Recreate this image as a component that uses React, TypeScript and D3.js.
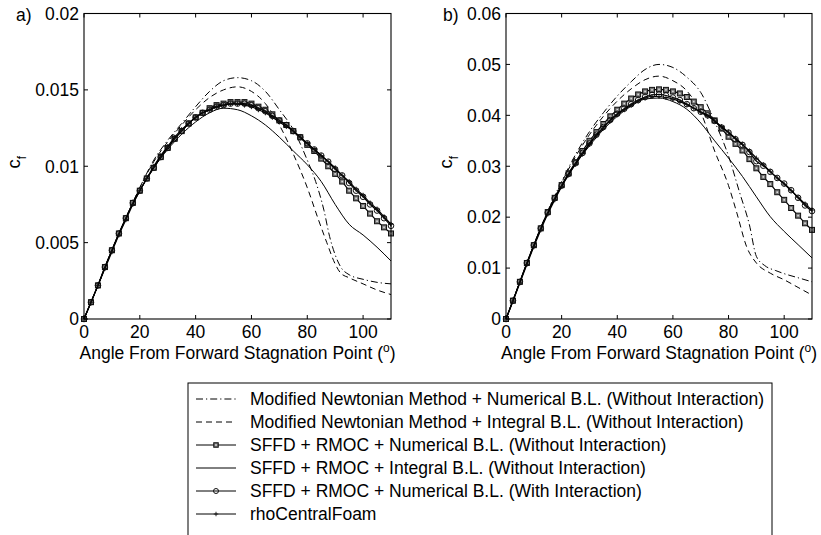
import React from 'react';
import * as d3 from 'd3';

const FONT = '"Liberation Sans", Arial, Helvetica, sans-serif';

// shared sampling grid for the marker series (deg)
const X25 = [0,2.5,5,7.5,10,12.5,15,17.5,20,22.5,25,27.5,30,32.5,35,37.5,40,42.5,45,47.5,50,52.5,55,57.5,60,62.5,65,67.5,70,72.5,75,77.5,80,82.5,85,87.5,90,92.5,95,97.5,100,102.5,105,107.5,110];
const X5 = [0,5,10,15,20,25,30,35,40,45,50,55,60,65,70,75,80,85,90,95,100,105,110];

const X_TICKS = [0, 20, 40, 60, 80, 100];
const A_Y_TICKS = [0, 0.005, 0.01, 0.015, 0.02];
const A_Y_LABELS = ['0', '0.005', '0.01', '0.015', '0.02'];
const B_Y_TICKS = [0, 0.01, 0.02, 0.03, 0.04, 0.05, 0.06];
const B_Y_LABELS = ['0', '0.01', '0.02', '0.03', '0.04', '0.05', '0.06'];

// ---- panel a ----
const A_MNN_X = [0,5,10,15,20,25,30,35,40,45,50,55,60,65,70,75,80,83,86,88,90,92,95,100,105,110];
const A_MNN_Y = [0,.0022,.0045,.0066,.0086,.0104,.0117,.0128,.0139,.0149,.0156,.0158,.0156,.0149,.0137,.0124,.0104,.0090,.0071,.0054,.0042,.0034,.0029,.0026,.0024,.0023];
const A_MNI_X = [0,5,10,15,20,25,30,35,40,45,50,55,60,65,70,75,80,84,87,90,92,95,100,105,110];
const A_MNI_Y = [0,.0022,.0045,.0066,.0086,.0103,.0116,.0127,.0137,.0145,.0150,.0152,.0149,.0141,.0127,.0108,.0086,.0065,.0050,.0036,.0030,.0027,.0023,.0019,.0016];
const A_SQ = [0,.0011,.0022,.0034,.0045,.0056,.0066,.0076,.0084,.0092,.0099,.0106,.0112,.0118,.0123,.0128,.0132,.0135,.0138,.0140,.0141,.0142,.0142,.0142,.0141,.0139,.0137,.0134,.0130,.0127,.0123,.0119,.0114,.0110,.0105,.0100,.0095,.0090,.0084,.0079,.0074,.0069,.0064,.0060,.0056];
const A_INT = [0,.0022,.0045,.0066,.0084,.0099,.0111,.0121,.0129,.0135,.0138,.0137,.0133,.0127,.0119,.0110,.0101,.0090,.0075,.0062,.0055,.0047,.0038];
const A_CI = [0,.0011,.0022,.0034,.0045,.0056,.0066,.0076,.0084,.0092,.0099,.0106,.0112,.0118,.0123,.0128,.0132,.0135,.0137,.0139,.0140,.0141,.0141,.0141,.0140,.0138,.0136,.0133,.0130,.0127,.0123,.0119,.0115,.0111,.0107,.0103,.0098,.0094,.0089,.0084,.0080,.0075,.0071,.0066,.0061];
const A_RHO = [0,.0011,.0022,.0033,.0044,.0055,.0065,.0075,.0084,.0092,.0100,.0107,.0113,.0119,.0124,.0128,.0132,.0135,.0137,.0139,.0140,.0141,.0141,.0140,.0139,.0137,.0135,.0132,.0129,.0126,.0123,.0119,.0115,.0111,.0107,.0103,.0099,.0094,.0090,.0085,.0081,.0076,.0072,.0067,.0062];

// ---- panel b ----
const B_MNN_X = [0,5,10,15,20,25,30,35,40,45,50,55,60,65,70,75,80,84,87.5,90,93,97,100,105,110];
const B_MNN_Y = [0,.0073,.0146,.0212,.0270,.0323,.0368,.0405,.0438,.0466,.0490,.0500,.0494,.0475,.0445,.0388,.0320,.0248,.0185,.0123,.0105,.0095,.0089,.0081,.0073];
const B_MNI_X = [0,5,10,15,20,25,30,35,40,45,50,55,60,65,70,75,80,83,86.5,90,95,100,105,110];
const B_MNI_Y = [0,.0073,.0145,.0211,.0268,.0319,.0362,.0398,.0428,.0452,.0470,.0477,.0468,.0448,.0406,.0330,.0262,.0208,.0142,.0110,.0090,.0077,.0062,.0047];
const B_SQ = [0,.0036,.0073,.0110,.0145,.0178,.0210,.0238,.0263,.0286,.0308,.0330,.0350,.0367,.0383,.0398,.0411,.0423,.0433,.0441,.0447,.0450,.0451,.0450,.0447,.0443,.0436,.0427,.0416,.0404,.0390,.0374,.0358,.0344,.0331,.0314,.0296,.0279,.0265,.0249,.0234,.0218,.0203,.0188,.0175];
const B_INT = [0,.0073,.0144,.0208,.0261,.0304,.0340,.0372,.0398,.0418,.0432,.0434,.0427,.0412,.0385,.0350,.0316,.0280,.0240,.0201,.0172,.0146,.0120];
const B_CI = [0,.0036,.0073,.0110,.0145,.0178,.0209,.0237,.0262,.0285,.0306,.0326,.0345,.0362,.0377,.0391,.0403,.0413,.0422,.0430,.0436,.0440,.0441,.0439,.0435,.0430,.0422,.0414,.0407,.0400,.0389,.0376,.0366,.0353,.0342,.0328,.0310,.0301,.0289,.0277,.0266,.0253,.0238,.0223,.0212];
const B_RHO = [0,.0035,.0071,.0107,.0142,.0175,.0206,.0234,.0260,.0283,.0304,.0324,.0343,.0360,.0375,.0389,.0401,.0411,.0420,.0428,.0434,.0437,.0437,.0435,.0432,.0427,.0421,.0414,.0406,.0398,.0389,.0378,.0367,.0355,.0343,.0330,.0316,.0303,.0290,.0277,.0265,.0252,.0239,.0226,.0214];

const LEGEND_LABELS = [
  'Modified Newtonian Method + Numerical B.L. (Without Interaction)',
  'Modified Newtonian Method + Integral B.L. (Without Interaction)',
  'SFFD + RMOC + Numerical B.L. (Without Interaction)',
  'SFFD + RMOC + Integral B.L. (Without Interaction)',
  'SFFD + RMOC + Numerical B.L. (With Interaction)',
  'rhoCentralFoam',
];

type Marker = 'none' | 'square' | 'circle' | 'plus';
const STYLES: { dash?: string; marker: Marker }[] = [
  { dash: '7,3,1.2,3', marker: 'none' },
  { dash: '6,4', marker: 'none' },
  { marker: 'square' },
  { marker: 'none' },
  { marker: 'circle' },
  { marker: 'plus' },
];

const FS = 17.5;

function MarkerShape({ type, x, y, s }: { type: Marker; x: number; y: number; s: number }) {
  if (type === 'square')
    return (
      <g>
        <rect x={x - s / 2} y={y - s / 2} width={s} height={s} fill="#777" stroke="#111" strokeWidth={1} />
        <rect x={x - 0.8} y={y - 0.8} width={1.6} height={1.6} fill="#ddd" />
      </g>
    );
  if (type === 'circle')
    return <circle cx={x} cy={y} r={s / 2} fill="none" stroke="#111" strokeWidth={1} />;
  if (type === 'plus')
    return (
      <g stroke="#111" strokeWidth={0.9}>
        <line x1={x - s / 2} x2={x + s / 2} y1={y} y2={y} />
        <line x1={x} x2={x} y1={y - s / 2} y2={y + s / 2} />
      </g>
    );
  return null;
}

function Panel(props: {
  left: number; right: number; top: number; bottom: number; yMax: number;
  yTicks: number[]; yLabels: string[]; tag: string; tagX: number; cfX: number;
  series: { xs: number[]; ys: number[] }[];
}) {
  const { left, right, top, bottom, yMax, yTicks, yLabels, tag, tagX, cfX, series } = props;
  const x = d3.scaleLinear().domain([0, 110]).range([left, right]);
  const y = d3.scaleLinear().domain([0, yMax]).range([bottom, top]);
  const line = d3.line<[number, number]>().x(d => x(d[0])).y(d => y(d[1])).curve(d3.curveMonotoneX);
  const tl = 4;
  const clipId = 'clip-' + tag.replace(')', '');
  return (
    <g>
      <defs>
        <clipPath id={clipId}>
          <rect x={left - 4} y={top} width={right - left + 8} height={bottom - top + 4} />
        </clipPath>
      </defs>
      <g clipPath={`url(#${clipId})`}>
        {series.map((s, i) => {
          const pts = s.xs.map((xv, j) => [xv, s.ys[j]] as [number, number]);
          const st = STYLES[i];
          return (
            <g key={i}>
              <path d={line(pts) || ''} fill="none" stroke="#000" strokeWidth={st.marker === 'none' ? 1 : 1.2} strokeDasharray={st.dash} />
              {st.marker !== 'none' && pts.map((p, j) => (
                <MarkerShape key={j} type={st.marker} x={x(p[0])} y={y(p[1])} s={st.marker === 'circle' ? 5.6 : 5} />
              ))}
            </g>
          );
        })}
      </g>
      <rect x={left} y={top} width={right - left} height={bottom - top} fill="none" stroke="#000" strokeWidth={1.1} />
      {X_TICKS.map(t => (
        <g key={'x' + t}>
          <line x1={x(t)} x2={x(t)} y1={bottom} y2={bottom - tl} stroke="#000" />
          <line x1={x(t)} x2={x(t)} y1={top} y2={top + tl} stroke="#000" />
          <text x={x(t)} y={bottom + 19} textAnchor="middle" fontSize={FS} fontFamily={FONT}>{t}</text>
        </g>
      ))}
      {yTicks.map((t, i) => (
        <g key={'y' + t}>
          <line x1={left} x2={left + tl} y1={y(t)} y2={y(t)} stroke="#000" />
          <line x1={right} x2={right - tl} y1={y(t)} y2={y(t)} stroke="#000" />
          <text x={left - 5} y={y(t) + 6.3} textAnchor="end" fontSize={FS} fontFamily={FONT}>{yLabels[i]}</text>
        </g>
      ))}
      <text x={(left + right) / 2} y={bottom + 40} textAnchor="middle" fontSize={FS} fontFamily={FONT}>
        Angle From Forward Stagnation Point (<tspan fontSize={12} dy={-7}>o</tspan><tspan dy={7}>)</tspan>
      </text>
      <text transform={`translate(${cfX},${(top + bottom) / 2 - 4}) rotate(-90)`} textAnchor="middle" fontSize={FS + 1} fontFamily={FONT}>
        c<tspan fontSize={12} dy={6}>f</tspan>
      </text>
      <text x={tagX} y={21} fontSize={FS} fontFamily={FONT}>{tag}</text>
    </g>
  );
}

export default function App() {
  const aSeries = [
    { xs: A_MNN_X, ys: A_MNN_Y },
    { xs: A_MNI_X, ys: A_MNI_Y },
    { xs: X25, ys: A_SQ },
    { xs: X5, ys: A_INT },
    { xs: X25, ys: A_CI },
    { xs: X25, ys: A_RHO },
  ];
  const bSeries = [
    { xs: B_MNN_X, ys: B_MNN_Y },
    { xs: B_MNI_X, ys: B_MNI_Y },
    { xs: X25, ys: B_SQ },
    { xs: X5, ys: B_INT },
    { xs: X25, ys: B_CI },
    { xs: X25, ys: B_RHO },
  ];
  const legLeft = 188, legTop = 383, legRight = 772, row0 = 399, rowH = 23;
  return (
    <svg width={821} height={535} style={{ position: 'absolute', left: 0, top: 0, background: '#fff' }}>
      <rect width={821} height={535} fill="#fff" />
      <Panel left={84} right={391} top={13.5} bottom={319} yMax={0.02} yTicks={A_Y_TICKS} yLabels={A_Y_LABELS}
        tag="a)" tagX={16} cfX={20} series={aSeries} />
      <Panel left={506} right={812} top={13.5} bottom={319} yMax={0.06} yTicks={B_Y_TICKS} yLabels={B_Y_LABELS}
        tag="b)" tagX={443} cfX={452} series={bSeries} />
      <rect x={legLeft} y={legTop} width={legRight - legLeft} height={170} fill="#fff" stroke="#000" strokeWidth={1} />
      {LEGEND_LABELS.map((lab, i) => {
        const yy = row0 + i * rowH;
        const st = STYLES[i];
        return (
          <g key={i}>
            <line x1={196} x2={236} y1={yy} y2={yy} stroke="#000" strokeWidth={1} strokeDasharray={st.dash} />
            {st.marker !== 'none' && <MarkerShape type={st.marker} x={216} y={yy} s={st.marker === 'circle' ? 5 : 4.5} />}
            <text x={250} y={yy + 6.3} fontSize={FS} fontFamily={FONT}>{lab}</text>
          </g>
        );
      })}
    </svg>
  );
}
